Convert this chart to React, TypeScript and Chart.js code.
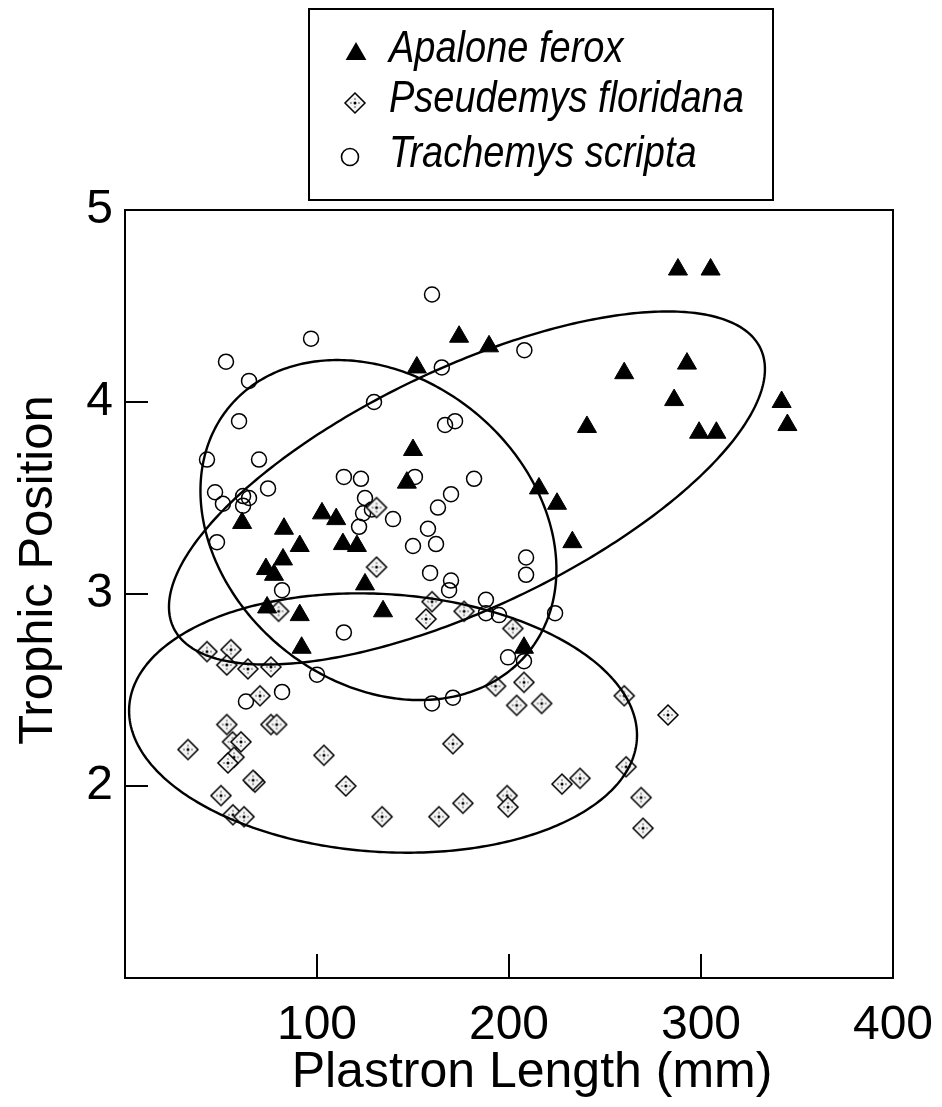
import React, { useEffect, useRef } from "react";
import { Chart, registerables } from "chart.js";

Chart.register(...registerables);

// ---- Data (Plastron length mm, Trophic position) ----
const apaloneX = [288, 305, 292.7, 260, 286, 299, 308, 342, 345, 240.6, 233, 225, 215.6, 150, 146.8, 207.8, 174, 189.6, 152, 102.6, 110, 61, 82.8, 113.5, 120.8, 91, 82.3, 73.4, 77.6, 125, 74, 91, 134.4, 92];
const apaloneY = [4.69, 4.69, 4.2, 4.15, 4.01, 3.84, 3.84, 4.0, 3.88, 3.87, 3.27, 3.47, 3.55, 3.75, 3.58, 2.72, 4.34, 4.29, 4.18, 3.42, 3.39, 3.37, 3.34, 3.26, 3.25, 3.25, 3.18, 3.13, 3.1, 3.05, 2.93, 2.89, 2.91, 2.72];

const pseudemysX = [131, 131, 80, 159.9, 156.8, 176.6, 202, 42.7, 55.2, 53, 64, 76, 70.3, 53, 76, 79, 32.8, 56, 60.4, 56.8, 53.6, 103.6, 67.7, 66.7, 115, 50, 56.2, 62, 133.9, 193, 207.8, 204, 217, 260, 282.8, 170.8, 261, 227.6, 237, 199, 199.5, 176, 163.5, 268.8, 269.8];
const pseudemysY = [3.45, 3.14, 2.91, 2.96, 2.87, 2.91, 2.82, 2.7, 2.71, 2.63, 2.61, 2.62, 2.47, 2.32, 2.32, 2.32, 2.19, 2.23, 2.23, 2.15, 2.12, 2.16, 2.02, 2.03, 2.0, 1.95, 1.85, 1.84, 1.84, 2.52, 2.54, 2.42, 2.43, 2.47, 2.37, 2.22, 2.1, 2.01, 2.04, 1.95, 1.89, 1.91, 1.84, 1.94, 1.78];

const trachemysX = [52.6, 64.6, 59.4, 159.9, 96.9, 165, 208, 129.7, 171.9, 166.7, 42.7, 69.8, 114, 122.9, 151, 46.9, 61.5, 64.6, 74.5, 51, 61.5, 125, 128.6, 124, 139.6, 121.9, 47.9, 150, 81.8, 114, 181.8, 169.8, 163, 157.8, 162, 158.9, 208.9, 208.9, 169.8, 168.8, 188, 188, 194.8, 224, 100, 63, 81.8, 199.5, 207.8, 170.8, 159.9];
const trachemysY = [4.21, 4.11, 3.9, 4.56, 4.33, 4.18, 4.27, 4.0, 3.9, 3.88, 3.7, 3.7, 3.61, 3.6, 3.61, 3.53, 3.51, 3.5, 3.55, 3.47, 3.46, 3.5, 3.44, 3.42, 3.39, 3.35, 3.27, 3.25, 3.02, 2.8, 3.6, 3.52, 3.45, 3.34, 3.26, 3.11, 3.19, 3.1, 3.07, 3.02, 2.97, 2.9, 2.89, 2.9, 2.58, 2.44, 2.49, 2.67, 2.65, 2.46, 2.43];

// Ellipses (data units): centre and two conjugate semi-axis vectors
const ellipseCx = [178.1, 134.4, 132.0];
const ellipseCy = [3.552, 2.328, 3.333];
const ellipseUx = [155.2, 132.2, 92.7];
const ellipseUy = [0.619, -0.0854, -0.2047];
const ellipseVx = [0, -4.3, 0];
const ellipseVy = [-0.68, -0.67, -0.8615];

const xTicks = [0, 100, 200, 300, 400];
const yTicks = [1, 2, 3, 4, 5];
const seriesNames = ["Apalone ferox", "Pseudemys floridana", "Trachemys scripta"];
const xTitle = "Plastron Length (mm)";
const yTitle = "Trophic Position";

const FONT = '"Liberation Sans", Arial, Helvetica, sans-serif';

function makeDiamond(): HTMLCanvasElement {
  const c = document.createElement("canvas");
  c.width = 24;
  c.height = 24;
  const g = c.getContext("2d")!;
  const m = 12;
  const h = 10;
  g.beginPath();
  g.moveTo(m, m - h);
  g.lineTo(m + h, m);
  g.lineTo(m, m + h);
  g.lineTo(m - h, m);
  g.closePath();
  g.fillStyle = "#f4f4f4";
  g.fill();
  g.lineWidth = 1.5;
  g.strokeStyle = "#000";
  g.stroke();
  g.fillStyle = "#8a8a8a";
  const dots = [[-4, 0], [4, 0], [0, -4], [0, 4]];
  for (const [dx, dy] of dots) {
    g.beginPath();
    g.arc(m + dx, m + dy, 1, 0, Math.PI * 2);
    g.fill();
  }
  g.fillStyle = "#000";
  g.beginPath();
  g.arc(m, m, 1.5, 0, Math.PI * 2);
  g.fill();
  return c;
}

function pts(xs: number[], ys: number[]) {
  return xs.map((v, i) => ({ x: v, y: ys[i] }));
}

export default function App() {
  const ref = useRef<HTMLCanvasElement | null>(null);

  useEffect(() => {
    if (!ref.current) return;
    const diamond = makeDiamond();

    const overlay = {
      id: "overlay",
      afterDatasetsDraw(chart: any) {
        const { ctx, chartArea: ca, scales } = chart;
        const xs = scales.x;
        const ys = scales.y;
        ctx.save();
        // ellipses
        ctx.lineWidth = 2.4;
        ctx.strokeStyle = "#000";
        for (let k = 0; k < ellipseCx.length; k++) {
          ctx.beginPath();
          for (let i = 0; i <= 360; i++) {
            const t = (i * Math.PI) / 180;
            const dx = ellipseCx[k] + ellipseUx[k] * Math.cos(t) + ellipseVx[k] * Math.sin(t);
            const dy = ellipseCy[k] + ellipseUy[k] * Math.cos(t) + ellipseVy[k] * Math.sin(t);
            const px = xs.getPixelForValue(dx);
            const py = ys.getPixelForValue(dy);
            if (i === 0) ctx.moveTo(px, py);
            else ctx.lineTo(px, py);
          }
          ctx.closePath();
          ctx.stroke();
        }
        // frame
        ctx.lineWidth = 2;
        ctx.strokeRect(ca.left, ca.top, ca.right - ca.left, ca.bottom - ca.top);
        // inward ticks
        for (const v of yTicks) {
          const py = ys.getPixelForValue(v);
          ctx.beginPath();
          ctx.moveTo(ca.left, py);
          ctx.lineTo(ca.left + 23, py);
          ctx.stroke();
        }
        for (const v of xTicks) {
          const px = xs.getPixelForValue(v);
          ctx.beginPath();
          ctx.moveTo(px, ca.bottom);
          ctx.lineTo(px, ca.bottom - 24);
          ctx.stroke();
        }
        ctx.restore();
      },
      afterDraw(chart: any) {
        const { ctx } = chart;
        ctx.save();
        ctx.fillStyle = "#000";
        ctx.strokeStyle = "#000";
        // axis titles
        ctx.font = `50px ${FONT}`;
        ctx.textAlign = "center";
        ctx.textBaseline = "alphabetic";
        ctx.fillText(xTitle, 532, 1087);
        ctx.save();
        ctx.translate(52, 570);
        ctx.rotate(-Math.PI / 2);
        ctx.font = `49px ${FONT}`;
        ctx.fillText(yTitle, 0, 0);
        ctx.restore();

        // legend box
        ctx.lineWidth = 2;
        ctx.strokeRect(309, 9, 464, 191);
        // triangle marker
        const tx = 356, ty = 54, tr = 12;
        ctx.beginPath();
        ctx.moveTo(tx, ty - tr);
        ctx.lineTo(tx + tr * 0.866, ty + tr * 0.5);
        ctx.lineTo(tx - tr * 0.866, ty + tr * 0.5);
        ctx.closePath();
        ctx.fill();
        // diamond marker
        ctx.drawImage(diamond, 355 - 12, 103 - 12);
        // circle marker
        ctx.lineWidth = 1.6;
        ctx.beginPath();
        ctx.arc(350, 157, 8.5, 0, Math.PI * 2);
        ctx.stroke();
        // legend texts
        ctx.textAlign = "left";
        ctx.font = `italic 38px ${FONT}`;
        const baselines = [62, 112, 167];
        for (let i = 0; i < seriesNames.length; i++) {
          ctx.save();
          ctx.translate(389, baselines[i]);
          ctx.scale(1, 1.17);
          ctx.fillText(seriesNames[i], 0, 0);
          ctx.restore();
        }
        ctx.restore();
      },
    };

    const chart = new Chart(ref.current, {
      type: "scatter",
      data: {
        datasets: [
          {
            label: seriesNames[2],
            data: pts(trachemysX, trachemysY),
            pointStyle: "circle",
            pointRadius: 7.5,
            backgroundColor: "rgba(0,0,0,0)",
            borderColor: "#000",
            borderWidth: 1.5,
            order: 3,
          },
          {
            label: seriesNames[1],
            data: pts(pseudemysX, pseudemysY),
            pointStyle: diamond,
            pointRadius: 10,
            order: 2,
          },
          {
            label: seriesNames[0],
            data: pts(apaloneX, apaloneY),
            pointStyle: "triangle",
            pointRadius: 11,
            backgroundColor: "#000",
            borderColor: "#000",
            borderWidth: 1,
            order: 1,
          },
        ],
      },
      options: {
        responsive: false,
        maintainAspectRatio: false,
        animation: false,
        layout: { padding: { left: 0, top: 210, right: 49, bottom: 0 } },
        plugins: { legend: { display: false }, tooltip: { enabled: false } },
        scales: {
          x: {
            type: "linear",
            min: 0,
            max: 400,
            grid: { display: false, drawTicks: false },
            border: { display: false },
            ticks: {
              stepSize: 100,
              maxRotation: 0,
              autoSkip: false,
              padding: 19,
              color: "#000",
              font: { size: 48, family: FONT },
              callback: (v: any) => (v === 0 ? "" : String(v)),
            },
            afterFit: (s: any) => {
              s.height = 129;
              s.paddingLeft = 0;
              s.paddingRight = 0;
            },
          },
          y: {
            type: "linear",
            min: 1,
            max: 5,
            grid: { display: false, drawTicks: false },
            border: { display: false },
            ticks: {
              stepSize: 1,
              autoSkip: false,
              padding: 12,
              color: "#000",
              font: { size: 48, family: FONT },
              callback: (v: any) => (v === 1 ? "" : String(v)),
            },
            afterFit: (s: any) => {
              s.width = 125;
              s.paddingTop = 0;
              s.paddingBottom = 0;
            },
          },
        },
      },
      plugins: [overlay],
    } as any);

    return () => chart.destroy();
  }, []);

  return (
    <div style={{ position: "absolute", left: 0, top: 0, width: 942, height: 1107, background: "#fff" }}>
      <canvas ref={ref} width={942} height={1107} style={{ display: "block", width: 942, height: 1107 }} />
    </div>
  );
}
